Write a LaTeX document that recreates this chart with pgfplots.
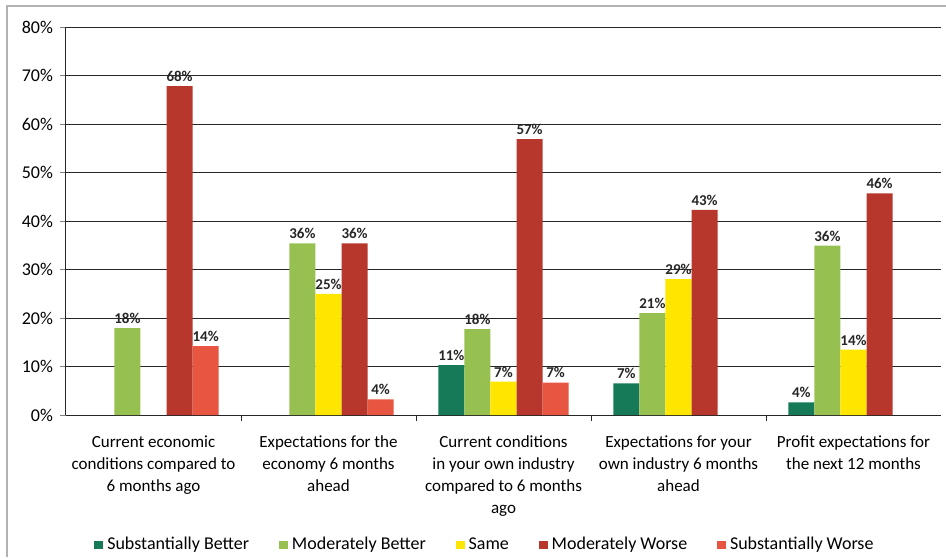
\documentclass[border=0pt]{standalone}
\usepackage{fontspec}
\setmainfont{Carlito}
\usepackage{pgfplots}
\pgfplotsset{compat=1.18}
\definecolor{sbc}{RGB}{22,122,88}
\definecolor{mbc}{RGB}{150,192,80}
\definecolor{smc}{RGB}{255,230,0}
\definecolor{mwc}{RGB}{183,55,45}
\definecolor{swc}{RGB}{232,85,65}
\begin{document}
\begin{tikzpicture}
\useasboundingbox (-33pt,-71pt) rectangle (440pt,207.5pt);
\draw[gray!60, line width=0.6pt] (-29.5pt,-71pt) -- (-29.5pt,204.5pt) -- (440pt,204.5pt);
\begin{axis}[
  at={(0,0)}, anchor=south west, scale only axis,
  width=437.5pt, height=194pt,
  ybar=0pt, bar width=0.149,
  xmin=-0.5, xmax=4.5, ymin=0, ymax=80,
  ytick={0,10,...,80},
  yticklabel={\pgfmathprintnumber{\tick}\%},
  /pgf/number format/assume math mode=true,
  ymajorgrids, grid style={black!85, line width=0.45pt},
  axis x line*=bottom, axis y line*=left,
  axis line style={black!85, line width=0.5pt},
  tick align=outside, major tick length=3pt, minor tick length=3pt,
  xtick={0,1,2,3,4},
  major x tick style={draw=none},
  minor xtick={0.5,1.5,2.5,3.5},
  minor x tick style={black!85},
  xticklabels={
    {Current economic\\conditions compared to\\6 months ago},
    {Expectations for the\\economy 6 months\\ahead},
    {Current conditions\\in your own industry\\compared to 6 months\\ago},
    {Expectations for your\\own industry 6 months\\ahead},
    {Profit expectations for\\the next 12 months}},
  x tick label style={align=center, font=\fontsize{8.5}{11}\selectfont, anchor=north, yshift=-4pt},
  y tick label style={font=\fontsize{9}{10}\selectfont},
  point meta=explicit,
  nodes near coords={\pgfmathprintnumber{\pgfplotspointmeta}\%},
  nodes near coords style={font=\bfseries\fontsize{7.5}{8}\selectfont, black!85, inner sep=2pt},
  legend columns=-1,
  legend style={at={(0.48,-0.335)}, anchor=center, draw=none, fill=none,
    font=\fontsize{9}{10}\selectfont,
    /tikz/every even column/.append style={column sep=13pt}},
  legend image code/.code={\fill[#1] (0pt,-2.2pt) rectangle (4.4pt,2.2pt);},
]
\addplot[fill=sbc, draw=none] coordinates {(2,10.3)[11] (3,6.5)[7] (4,2.6)[4]};
\addplot[fill=mbc, draw=none] coordinates {(0,17.9)[18] (1,35.4)[36] (2,17.7)[18] (3,21)[21] (4,34.9)[36]};
\addplot[fill=smc, draw=none] coordinates {(1,25)[25] (2,6.9)[7] (3,28)[29] (4,13.5)[14]};
\addplot[fill=mwc, draw=none] coordinates {(0,67.8)[68] (1,35.4)[36] (2,56.9)[57] (3,42.3)[43] (4,45.7)[46]};
\addplot[fill=swc, draw=none] coordinates {(0,14.2)[14] (1,3.2)[4] (2,6.7)[7]};
\legend{Substantially Better, Moderately Better, Same, Moderately Worse, Substantially Worse}
\end{axis}
\end{tikzpicture}
\end{document}
